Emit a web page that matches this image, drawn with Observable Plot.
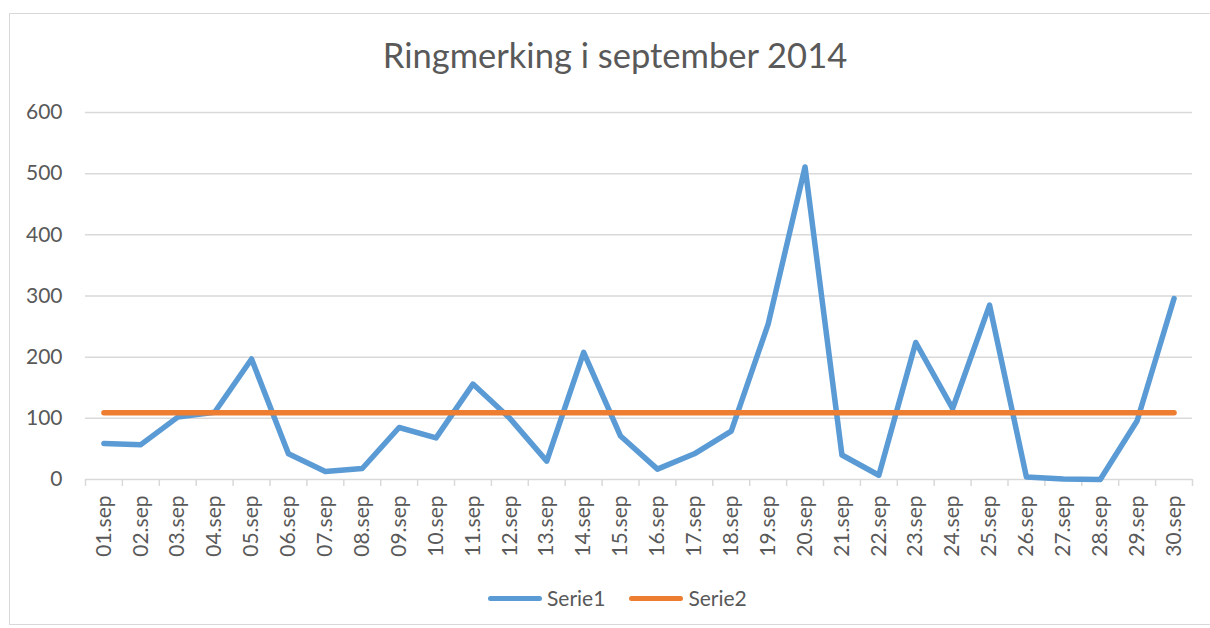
<!DOCTYPE html>
<html>
<head>
<meta charset="utf-8">
<script src="https://cdn.jsdelivr.net/npm/d3@7"></script>
<script src="https://cdn.jsdelivr.net/npm/@observablehq/plot@0.6"></script>
<style>
  html, body { margin: 0; padding: 0; background: #fff; }
  #wrap { position: relative; width: 1210px; height: 628px; font-family: Lato, "Open Sans", sans-serif; color: #595959; overflow: hidden; }
  #frame { position: absolute; left: 9px; top: 13px; width: 1210px; height: 612px; border: 1px solid #d9d9d9; box-sizing: border-box; }
  #title { position: absolute; left: 0; width: 1230px; top: 35px; text-align: center; font-size: 34.5px; line-height: 40px; }
  #legend { position: absolute; top: 586px; left: 488px; font-size: 21px; line-height: 24px; display: flex; align-items: center; }
  .sw { display: inline-block; width: 54px; height: 5px; border-radius: 3px; margin-right: 5px; }
  #chart { position: absolute; left: 0; top: 0; }
</style>
</head>
<body>
<div id="wrap">
  <div id="frame"></div>
  <div id="chart"></div>
  <div id="title"></div>
  <div id="legend"></div>
</div>
<script>
const title = "Ringmerking i september 2014";
const dates = ["01.sep","02.sep","03.sep","04.sep","05.sep","06.sep","07.sep","08.sep","09.sep","10.sep",
               "11.sep","12.sep","13.sep","14.sep","15.sep","16.sep","17.sep","18.sep","19.sep","20.sep",
               "21.sep","22.sep","23.sep","24.sep","25.sep","26.sep","27.sep","28.sep","29.sep","30.sep"];
const serie1 = [59, 57, 102, 110, 197, 42, 13, 18, 85, 68,
                156, 100, 30, 208, 71, 17, 42, 79, 254, 511,
                40, 7, 224, 116, 285, 4, 1, 0, 96, 296];
const serie2 = dates.map(() => 109);
const seriesNames = ["Serie1", "Serie2"];
const seriesColors = ["#5B9BD5", "#ED7D31"];
const yTicks = [0, 100, 200, 300, 400, 500, 600];

const rows = [];
dates.forEach((d, i) => {
  rows.push({i, date: d, value: serie1[i], series: seriesNames[0]});
  rows.push({i, date: d, value: serie2[i], series: seriesNames[1]});
});
const boundaries = d3.range(dates.length + 1).map(k => k - 0.5);

const chart = Plot.plot({
  width: 1210,
  height: 628,
  marginLeft: 85,
  marginRight: 18,
  marginTop: 112,
  marginBottom: 149,
  style: {fontFamily: "Lato, 'Open Sans', sans-serif", fontSize: "21px", color: "#595959", background: "transparent"},
  x: {type: "linear", domain: [-0.5, dates.length - 0.5]},
  y: {domain: [0, 600]},
  color: {domain: seriesNames, range: seriesColors},
  marks: [
    Plot.gridY(yTicks, {stroke: "#d9d9d9", strokeOpacity: 1, strokeWidth: 1.5}),
    Plot.axisY(yTicks, {tickSize: 0, tickPadding: 23, label: null, fill: "#595959", fontSize: 21}),
    Plot.axisX(boundaries, {tickSize: 7, stroke: "#d9d9d9", strokeWidth: 1.5, tickFormat: () => "", label: null}),
    Plot.axisX(d3.range(dates.length), {tickSize: 0, tickPadding: 16, tickRotate: -90, tickFormat: i => dates[i], label: null, fill: "#595959", fontSize: 21}),
    Plot.line(rows, {x: "i", y: "value", z: "series", stroke: "series", strokeWidth: 5.5, strokeLinecap: "round", strokeLinejoin: "round"})
  ]
});
document.getElementById("chart").appendChild(chart);
document.getElementById("title").textContent = title;
const legend = document.getElementById("legend");
seriesNames.forEach((n, k) => {
  const item = document.createElement("span");
  item.style.display = "inline-flex";
  item.style.alignItems = "center";
  item.style.marginRight = k === 0 ? "24px" : "0";
  const sw = document.createElement("span");
  sw.className = "sw";
  sw.style.background = seriesColors[k];
  const t = document.createElement("span");
  t.textContent = n;
  item.appendChild(sw);
  item.appendChild(t);
  legend.appendChild(item);
});
</script>
</body>
</html>
